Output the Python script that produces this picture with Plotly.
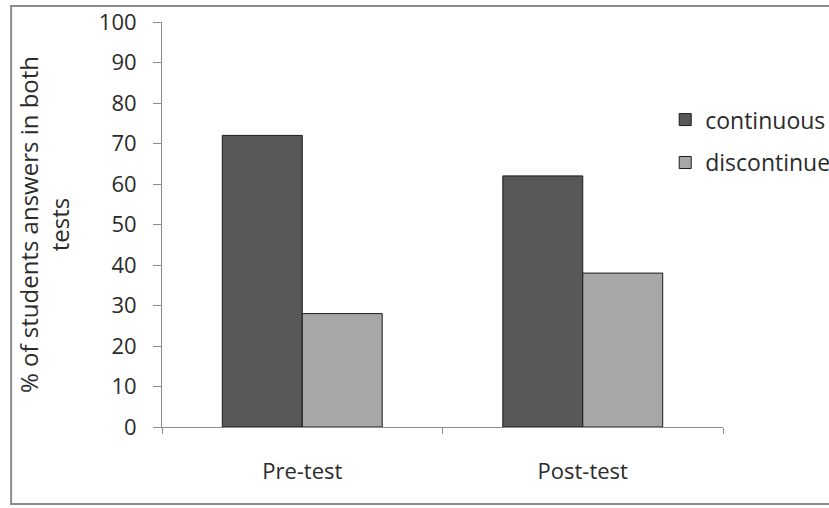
import plotly.graph_objects as go

categories = ["Pre-test", "Post-test"]
continuous = [72, 62]
discontinue = [28, 38]
series_names = ["continuous", "discontinue"]
y_ticks = [0, 10, 20, 30, 40, 50, 60, 70, 80, 90, 100]

FONT = "'Open Sans', sans-serif"
TXT = "#2b2b2b"

fig = go.Figure()
fig.add_trace(go.Bar(x=categories, y=continuous, name=series_names[0],
                     marker=dict(color="#585858", line=dict(color="#1a1a1a", width=1)),
                     legendgroup="a"))
fig.add_trace(go.Bar(x=categories, y=discontinue, name=series_names[1],
                     marker=dict(color="#a7a7a7", line=dict(color="#1a1a1a", width=1)),
                     legendgroup="b"))

fig.update_layout(
    width=829, height=508,
    margin=dict(l=162, r=106, t=22, b=81, autoexpand=False),
    paper_bgcolor="white", plot_bgcolor="white",
    barmode="group", bargap=0.43, bargroupgap=0,
    font=dict(family=FONT, size=22, color=TXT),
    showlegend=True,
    legend=dict(x=0.897, y=0.812, xanchor="left", yanchor="top",
                font=dict(size=23, color=TXT),
                tracegroupgap=10, traceorder="grouped",
                bgcolor="rgba(0,0,0,0)"),
    xaxis=dict(showline=True, linecolor="#8c8c8c", linewidth=1,
               ticks="outside", tickson="boundaries", ticklen=6, tickcolor="#8c8c8c",
               showgrid=False, ticklabelstandoff=25, automargin=False,
               tickfont=dict(size=22, color=TXT)),
    yaxis=dict(range=[0, 100], tickvals=y_ticks, showline=True, linecolor="#8c8c8c",
               linewidth=1, ticks="outside", ticklen=8, tickcolor="#8c8c8c",
               showgrid=False, zeroline=False, ticklabelstandoff=12,
               ticklabeloverflow="allow", automargin=False,
               tickfont=dict(size=22, color=TXT),
               title=dict(text="% of students answers in both<br>tests", standoff=22,
                          font=dict(size=24, color=TXT))),
    shapes=[dict(type="rect", xref="paper", yref="paper",
                 x0=-0.269, x1=1.3, y0=-0.19, y1=1.0395,
                 line=dict(color="#8c8c8c", width=2))],
)

fig.write_html("out.html", config={"displayModeBar": False},
               post_script="document.body.style.margin='0px';")
